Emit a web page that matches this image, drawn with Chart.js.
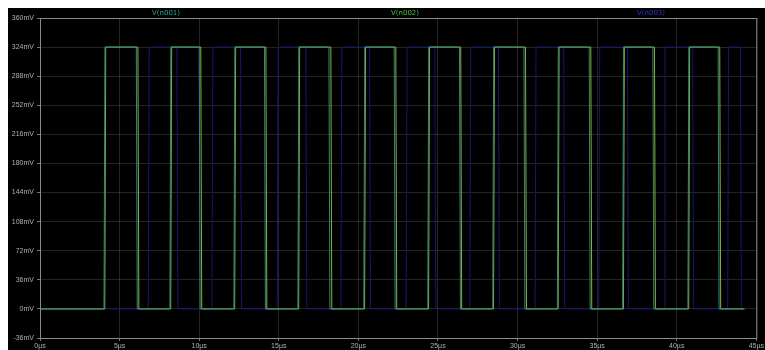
<!DOCTYPE html>
<html>
<head>
<meta charset="utf-8">
<script src="https://cdn.jsdelivr.net/npm/chart.js@4"></script>
<style>
  body { margin: 0; background: #fff; width: 765px; height: 350px; overflow: hidden; }
  #panel { position: absolute; left: 8px; top: 8px; width: 757px; height: 342px; background: #000; }
  #panel canvas { position: absolute; left: 0; top: 0; }
  .trace { position: absolute; top: 1px; font: 7px "DejaVu Sans", sans-serif; }
</style>
</head>
<body>
<div id="panel">
  <canvas id="waveChart" width="757" height="342"></canvas>
  <span class="trace" style="left:144px; color:#2aa595;">V(n001)</span>
  <span class="trace" style="left:383px; color:#3fc03f;">V(n002)</span>
  <span class="trace" style="left:629px; color:#3030d0;">V(n003)</span>
</div>
<script>
// --- tín hiệu (µs, mV) ---
const xTicks = [0, 5, 10, 15, 20, 25, 30, 35, 40, 45];
const yTicks = [-36, 0, 36, 72, 108, 144, 180, 216, 252, 288, 324, 360];
const levelLow = 0;
const levelHigh = 324;
const traceEnd = 44.25;

const tealRise  = [4.02, 8.16, 12.18, 16.2, 20.34, 24.36, 28.44, 32.5, 36.6, 40.7];
const tealFall  = [6.05, 10.0, 14.1, 18.15, 22.25, 26.35, 30.4, 34.5, 38.5, 42.6];
const greenRise = [4.07, 8.21, 12.23, 16.25, 20.39, 24.41, 28.49, 32.55, 36.65, 40.75];
const greenFall = [6.15, 10.1, 14.19, 18.27, 22.35, 26.43, 30.5, 34.6, 38.6, 42.7];
const blueRise  = [6.8, 10.8, 14.9, 18.9, 23.0, 27.0, 31.1, 35.1, 39.2, 43.2];
const blueFall  = [8.6, 12.6, 16.7, 20.7, 24.8, 28.8, 32.9, 36.9, 41.0, 44.0];

const edge = 0.06; // thời gian sườn

function pulseTrain(rises, falls) {
    const pts = [{ x: 0, y: levelLow }];
    rises.forEach((r, i) => {
        pts.push({ x: r, y: levelLow });
        pts.push({ x: r + edge, y: levelHigh });
        pts.push({ x: falls[i], y: levelHigh });
        pts.push({ x: falls[i] + edge, y: levelLow });
    });
    pts.push({ x: traceEnd, y: levelLow });
    return pts;
}

// khung viền quanh vùng vẽ
const frameBox = {
    id: 'frameBox',
    afterDraw(chart) {
        const a = chart.chartArea, c = chart.ctx;
        c.save();
        c.strokeStyle = '#8a8a8a';
        c.lineWidth = 1;
        c.strokeRect(a.left + 0.5, a.top + 0.5, a.right - a.left, a.bottom - a.top);
        c.restore();
    }
};

const ctx = document.getElementById('waveChart').getContext('2d');
new Chart(ctx, {
    type: 'line',
    data: {
        datasets: [
            { label: 'V(n001)', data: pulseTrain(tealRise, tealFall), borderColor: '#2b8c80', borderWidth: 1 },
            { label: 'V(n002)', data: pulseTrain(greenRise, greenFall), borderColor: '#8fac3a', borderWidth: 1 },
            { label: 'V(n003)', data: pulseTrain(blueRise, blueFall), borderColor: '#16166e', borderWidth: 1 }
        ]
    },
    options: {
        responsive: false,
        animation: false,
        elements: { point: { radius: 0 }, line: { tension: 0 } },
        layout: { padding: { top: 10, right: 7, left: 0, bottom: 0 } },
        plugins: { legend: { display: false }, tooltip: { enabled: false } },
        scales: {
            x: {
                type: 'linear',
                min: 0, max: 45,
                afterBuildTicks: s => { s.ticks = xTicks.map(v => ({ value: v })); },
                afterFit: s => { s.height = 12; },
                ticks: { color: '#b0b0b0', font: { size: 7 }, padding: 1, maxRotation: 0, callback: v => v + 'µs' },
                grid: { color: 'rgba(130,130,130,0.28)', tickLength: 3, tickColor: '#777' },
                border: { color: '#8a8a8a' }
            },
            y: {
                type: 'linear',
                min: -36, max: 360,
                afterBuildTicks: s => { s.ticks = yTicks.map(v => ({ value: v })); },
                afterFit: s => { s.width = 32; },
                ticks: { color: '#b0b0b0', font: { size: 7 }, padding: 3, callback: v => v + 'mV' },
                grid: { color: 'rgba(130,130,130,0.28)', tickLength: 3, tickColor: '#777' },
                border: { color: '#8a8a8a' }
            }
        }
    },
    plugins: [frameBox]
});
</script>
</body>
</html>
